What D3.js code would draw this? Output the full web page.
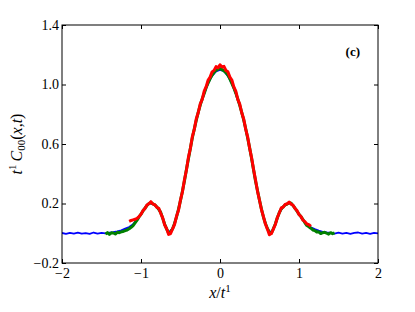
<!DOCTYPE html>
<html><head><meta charset="utf-8">
<script src="https://cdn.jsdelivr.net/npm/d3@7"></script>
<style>body{margin:0;background:#fff}svg{display:block}</style>
</head><body>
<script>
// ---- data ----
const xDomain = [-2, 2];
const yDomain = [-0.2, 1.4];
const xTickValues = [-2, -1, 0, 1, 2];
const yTickValues = [-0.2, 0.2, 0.6, 1.0, 1.4];
const panelLabel = "(c)";

// blue: x from -2 to 2, step 0.05
const blueStart = -2, blueStep = 0.05;
const blueValues = [
 0.002,-0.004,0.003,-0.002,0.004,-0.003,0.001,-0.004,0.005,-0.002,
 0.003,-0.001,0.004,0.007,0.012,0.019,0.031,0.042,0.061,0.092,
 0.128,0.171,0.203,0.196,0.178,0.138,0.061,0.004,0.032,0.112,
 0.218,0.352,0.498,0.641,0.758,0.861,0.938,1.008,1.058,1.088,
 1.098,
 1.090,1.056,1.006,0.936,0.858,0.756,0.638,0.496,0.348,0.216,
 0.110,0.030,0.002,0.058,0.136,0.180,0.198,0.204,0.168,0.126,
 0.090,0.060,0.040,0.028,0.018,0.010,0.005,0.002,-0.003,0.004,
 -0.002,0.003,-0.004,0.002,0.005,-0.003,0.002,-0.004,0.003,-0.001
];
// green: x from -1.45 to 1.45, step 0.025
const greenStart = -1.45, greenStep = 0.025;
const greenValues = [
 -0.006,0.004,-0.008,0.003,0.002,-0.005,0.006,0.004,0.010,0.012,
 0.018,0.022,0.030,0.040,0.052,0.070,0.088,0.110,0.128,0.150,
 0.168,0.186,0.200,0.206,0.198,0.190,0.178,0.160,0.140,0.100,
 0.060,0.028,0.002,0.008,0.030,0.066,0.110,0.162,0.220,0.284,
 0.352,0.428,0.500,0.572,0.642,0.702,0.760,0.814,0.862,0.904,
 0.940,0.980,1.010,1.040,1.062,1.082,1.095,1.104,
 1.108,
 1.100,1.092,1.080,1.064,1.038,1.008,0.978,0.942,0.902,0.860,
 0.812,0.762,0.704,0.640,0.574,0.502,0.426,0.350,0.286,0.222,
 0.162,0.108,0.066,0.032,0.006,0.000,0.030,0.062,0.102,0.138,
 0.164,0.178,0.190,0.196,0.206,0.202,0.186,0.168,0.148,0.128,
 0.112,0.092,0.070,0.052,0.044,0.034,0.022,0.018,0.008,0.010,
 -0.002,0.004,0.006,0.000,-0.006,0.004,-0.003,0.002
];
// red: x from -1.15 to 1.15, step 0.025
const redStart = -1.15, redStep = 0.025;
const redValues = [
 0.080,0.086,0.090,0.094,0.100,0.112,0.128,0.152,0.166,0.190,
 0.198,0.212,0.196,0.192,0.174,0.168,0.134,0.104,0.055,0.030,
 -0.008,-0.002,0.030,0.060,0.115,0.155,0.225,0.280,0.360,0.425,
 0.510,0.570,0.650,0.700,0.770,0.812,0.870,0.900,0.955,0.985,
 1.030,1.050,1.085,1.095,1.120,1.112,1.132,
 1.118,1.122,1.094,1.085,1.050,1.030,0.984,0.955,0.900,0.868,
 0.810,0.768,0.700,0.648,0.572,0.508,0.428,0.358,0.282,0.222,
 0.158,0.112,0.062,0.028,-0.010,-0.002,0.028,0.058,0.104,0.136,
 0.170,0.176,0.194,0.198,0.210,0.196,0.188,0.166,0.152,0.126,
 0.112,0.088,0.078,0.062,0.058,0.046
];

// ---- layout ----
const W = 415, H = 312;
const m = {left: 62, right: 37, top: 25, bottom: 49};
const iw = W - m.left - m.right, ih = H - m.top - m.bottom;

const svg = d3.select("body").append("svg").attr("width", W).attr("height", H);
const g = svg.append("g").attr("transform", `translate(${m.left},${m.top})`);

const x = d3.scaleLinear().domain(xDomain).range([0, iw]);
const y = d3.scaleLinear().domain(yDomain).range([ih, 0]);

const toPts = (start, step, vals) => vals.map((v, i) => [start + i * step, v]);
const line = d3.line().x(d => x(d[0])).y(d => y(d[1]));

g.append("defs").append("clipPath").attr("id", "clip")
  .append("rect").attr("width", iw).attr("height", ih);
const plot = g.append("g").attr("clip-path", "url(#clip)");

const series = [
  {pts: toPts(blueStart, blueStep, blueValues), color: "#0000ff", w: 1.8},
  {pts: toPts(greenStart, greenStep, greenValues), color: "#008000", w: 3},
  {pts: toPts(redStart, redStep, redValues), color: "#ff0000", w: 3}
];
plot.selectAll("path.s").data(series).join("path").attr("class", "s")
  .attr("d", d => line(d.pts)).attr("fill", "none")
  .attr("stroke", d => d.color).attr("stroke-width", d => d.w)
  .attr("stroke-linejoin", "round");

const font = "'Liberation Serif', 'DejaVu Serif', serif";
const fmtY = d3.format(".1f");
const fmtX = d3.format("d");

function style(a) {
  a.select(".domain").remove();
  a.selectAll(".tick line").attr("stroke", "#000").attr("stroke-width", 1);
  a.selectAll("text").attr("font-family", font).attr("font-size", 14).attr("fill", "#000");
}
g.append("g").call(d3.axisLeft(y).tickValues(yTickValues).tickFormat(fmtY).tickSize(-4).tickPadding(3)).call(style);
g.append("g").attr("transform", `translate(${iw},0)`)
  .call(d3.axisRight(y).tickValues(yTickValues).tickFormat("").tickSize(-4)).call(style);
g.append("g").attr("transform", `translate(0,${ih})`)
  .call(d3.axisBottom(x).tickValues(xTickValues).tickFormat(fmtX).tickSize(-4).tickPadding(5)).call(style);
g.append("g").call(d3.axisTop(x).tickValues(xTickValues).tickFormat("").tickSize(-4)).call(style);

g.append("rect").attr("width", iw).attr("height", ih)
  .attr("fill", "none").attr("stroke", "#000").attr("stroke-width", 1);

// panel label
g.append("text").attr("x", iw - 18).attr("y", 31).attr("text-anchor", "end")
  .attr("font-family", font).attr("font-weight", "bold").attr("font-size", 13)
  .text(panelLabel);

// x label
const xl = svg.append("text").attr("x", m.left + iw / 2).attr("y", 298)
  .attr("text-anchor", "middle").attr("font-family", font).attr("font-size", 16);
xl.append("tspan").attr("font-style", "italic").text("x");
xl.append("tspan").text("/");
xl.append("tspan").attr("font-style", "italic").text("t");
xl.append("tspan").attr("font-size", 11).attr("dy", -6).text("1");

// y label
const yl = svg.append("text").attr("transform", `translate(22,${m.top + ih / 2}) rotate(-90)`)
  .attr("text-anchor", "middle").attr("font-family", font).attr("font-size", 16);
yl.append("tspan").attr("font-style", "italic").text("t");
yl.append("tspan").attr("font-size", 11).attr("dy", -6).text("1");
yl.append("tspan").attr("font-style", "italic").attr("dy", 6).attr("dx", 3).text("C");
yl.append("tspan").attr("font-size", 11).attr("dy", 3).text("00");
yl.append("tspan").attr("dy", -3).text("(");
yl.append("tspan").attr("font-style", "italic").text("x");
yl.append("tspan").text(",");
yl.append("tspan").attr("font-style", "italic").text("t");
yl.append("tspan").text(")");
</script>
</body></html>
